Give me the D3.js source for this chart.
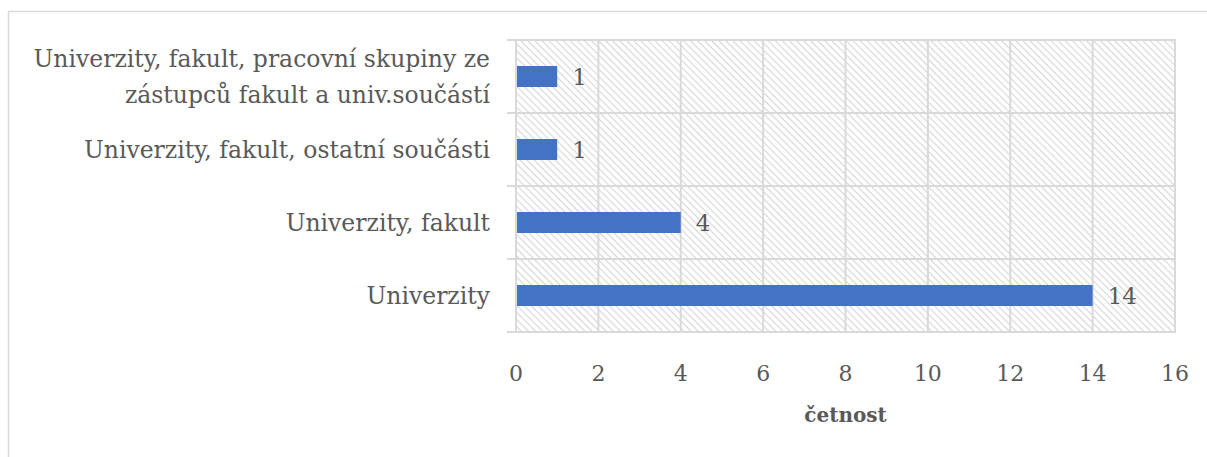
<!DOCTYPE html>
<html lang="cs">
<head>
<meta charset="UTF-8">
<title>četnost</title>
<script src="https://d3js.org/d3.v7.min.js"></script>
<style>
  body { margin: 0; padding: 0; background: #fff; }
  text { font-family: "DejaVu Serif", serif; fill: #595959; }
</style>
</head>
<body>
<svg width="1207" height="457"></svg>
<script>
// data
const categories = [
  ["Univerzity, fakult, pracovní skupiny ze", "zástupců fakult a univ.součástí"],
  ["Univerzity, fakult, ostatní součásti"],
  ["Univerzity, fakult"],
  ["Univerzity"]
];
const values = [1, 1, 4, 14];
const xTicks = [0, 2, 4, 6, 8, 10, 12, 14, 16];
const axisTitle = "četnost";

const width = 1207, height = 457;
const margin = { left: 516, right: 32, top: 40, bottom: 125 };

const svg = d3.select("svg");

// okraj grafu
svg.append("rect")
  .attr("x", 8.5).attr("y", 11.5)
  .attr("width", width + 10).attr("height", height + 10)
  .attr("fill", "none").attr("stroke", "#d9d9d9").attr("stroke-width", 1.5);

// šrafování (klesající úhlopříčky)
const defs = svg.append("defs");
const pat = defs.append("pattern")
  .attr("id", "hatch").attr("patternUnits", "userSpaceOnUse")
  .attr("width", 5).attr("height", 5)
  .attr("patternTransform", "rotate(45)");
pat.append("rect").attr("width", 5).attr("height", 5).attr("fill", "#fff");
pat.append("line").attr("x1", 0).attr("y1", 0).attr("x2", 5).attr("y2", 0)
  .attr("stroke", "#d6d6d6").attr("stroke-width", 2.2);

const x = d3.scaleLinear().domain([0, 16]).range([margin.left, width - margin.right]);
const y = d3.scaleBand().domain(d3.range(categories.length))
  .range([margin.top, height - margin.bottom]).paddingInner(0).paddingOuter(0);

svg.append("rect")
  .attr("x", x(0)).attr("y", y.range()[0])
  .attr("width", x(16) - x(0)).attr("height", y.range()[1] - y.range()[0])
  .attr("fill", "url(#hatch)");

// mřížka
svg.append("g").selectAll("line")
  .data(xTicks)
  .join("line")
  .attr("x1", d => x(d)).attr("x2", d => x(d))
  .attr("y1", y.range()[0]).attr("y2", y.range()[1])
  .attr("stroke", "#d9d9d9").attr("stroke-width", 2);

// vodorovné čáry mezi kategoriemi (s přesahem jako značky osy)
const bounds = d3.range(categories.length + 1).map(i => y.range()[0] + i * y.step());
svg.append("g").selectAll("line")
  .data(bounds)
  .join("line")
  .attr("x1", x(0) - 9).attr("x2", x(16) + 1)
  .attr("y1", d => d).attr("y2", d => d)
  .attr("stroke", "#d9d9d9").attr("stroke-width", 2);

// sloupce
const barH = 21;
svg.append("g").selectAll("rect")
  .data(values)
  .join("rect")
  .attr("x", x(0) + 1)
  .attr("y", (d, i) => y(i) + y.bandwidth() / 2 - barH / 2)
  .attr("width", d => x(d) - x(0) - 1)
  .attr("height", barH)
  .attr("fill", "#4472c4");

// popisky hodnot
svg.append("g").selectAll("text")
  .data(values)
  .join("text")
  .attr("x", d => x(d) + 15)
  .attr("y", (d, i) => y(i) + y.bandwidth() / 2)
  .attr("dy", "0.35em")
  .attr("font-size", 23)
  .text(d => d);

// popisky kategorií
const catSize = 23.5;
const cat = svg.append("g").selectAll("text")
  .data(categories)
  .join("text")
  .attr("text-anchor", "end")
  .attr("font-size", catSize)
  .attr("y", (d, i) => y(i) + y.bandwidth() / 2);
cat.each(function(lines) {
  const t = d3.select(this);
  const lh = 36;
  lines.forEach((s, k) => {
    t.append("tspan")
      .attr("x", 490)
      .attr("dy", k === 0 ? ((-(lines.length - 1) * lh / 2) / catSize + 0.35) + "em" : lh + "px")
      .text(s);
  });
});

// osa x
svg.append("g").selectAll("text")
  .data(xTicks)
  .join("text")
  .attr("x", d => x(d))
  .attr("y", 381)
  .attr("text-anchor", "middle")
  .attr("font-size", 22)
  .text(d => d);

svg.append("text")
  .attr("x", (x(0) + x(16)) / 2)
  .attr("y", 422)
  .attr("text-anchor", "middle")
  .attr("font-size", 20)
  .attr("font-weight", "bold")
  .text(axisTitle);
</script>
</body>
</html>
